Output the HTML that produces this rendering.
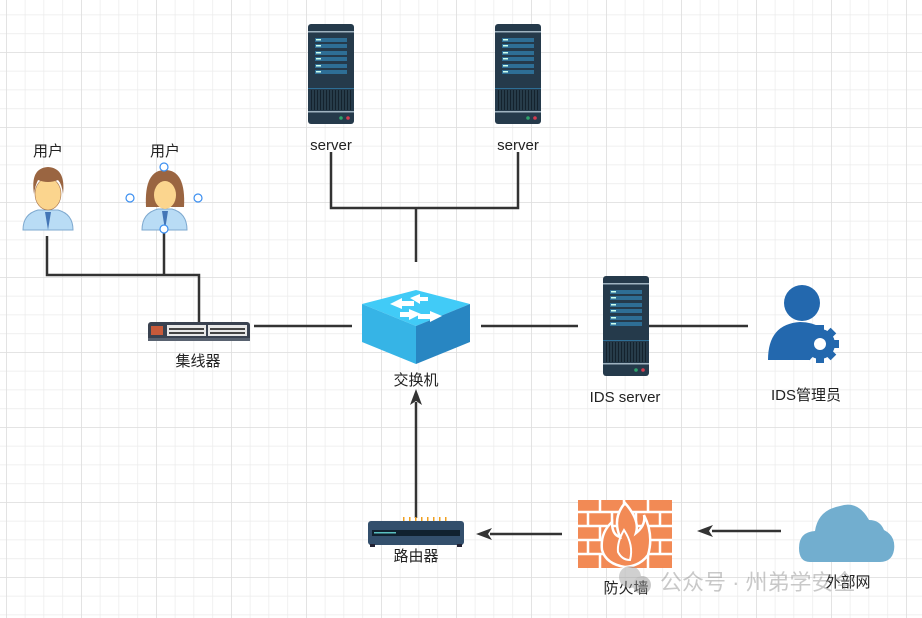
<!DOCTYPE html>
<html><head><meta charset="utf-8"><style>
html,body{margin:0;padding:0;background:#fff;}
svg{display:block;font-family:"Liberation Sans","Noto Sans CJK SC",sans-serif;}
</style></head><body>
<svg width="922" height="618" viewBox="0 0 922 618" xmlns="http://www.w3.org/2000/svg">
<defs>
<pattern id="minor" x="6" y="14.5" width="18.75" height="18.75" patternUnits="userSpaceOnUse">
<path d="M0 0V18.75M0 0H18.75" stroke="#ebebeb" stroke-width="1.4" fill="none"/>
</pattern>
<pattern id="major" x="6" y="52" width="75" height="75" patternUnits="userSpaceOnUse">
<path d="M0 0V75M0 0H75" stroke="#dedede" stroke-width="1.6" fill="none"/>
</pattern>
<g id="srv">
<rect x="0" y="0" width="46" height="100" rx="3" fill="#253a4b"/>
<rect x="0" y="7" width="46" height="1.5" fill="#9fb3c0"/>
<rect x="7" y="14" width="32" height="4" fill="#2e6e95"/>
<rect x="7" y="20" width="32" height="4" fill="#2e6e95"/>
<rect x="7" y="27" width="32" height="4" fill="#2e6e95"/>
<rect x="7" y="33" width="32" height="4" fill="#2e6e95"/>
<rect x="7" y="40" width="32" height="4" fill="#2e6e95"/>
<rect x="7" y="46" width="32" height="4" fill="#2e6e95"/>
<rect x="8" y="15" width="5" height="1.5" fill="#cfe"/><rect x="8" y="21" width="5" height="1.5" fill="#cfe"/>
<rect x="8" y="28" width="5" height="1.5" fill="#cfe"/><rect x="8" y="34" width="5" height="1.5" fill="#cfe"/>
<rect x="8" y="41" width="5" height="1.5" fill="#cfe"/><rect x="8" y="47" width="5" height="1.5" fill="#cfe"/>
<rect x="0" y="64" width="46" height="1" fill="#2e6e95"/>
<rect x="3" y="66" width="40" height="20" fill="#14222d"/>
<path d="M5 66V86M8 66V86M11 66V86M14 66V86M17 66V86M20 66V86M23 66V86M26 66V86M29 66V86M32 66V86M35 66V86M38 66V86M41 66V86" stroke="#3a5566" stroke-width="1"/>
<rect x="0" y="87" width="46" height="1.5" fill="#9fb3c0"/>
<circle cx="33" cy="94" r="1.8" fill="#2ea36b"/><circle cx="40" cy="94" r="1.8" fill="#d43b4f"/>
</g>
</defs>
<rect width="922" height="618" fill="url(#minor)"/>
<rect width="922" height="618" fill="url(#major)"/>

<g stroke="#333" stroke-width="2.5" fill="none">
<path d="M331 152V208H518V152"/>
<path d="M416 208V262"/>
<path d="M47 236V275H199V323"/>
<path d="M164 230V275"/>
<path d="M254 326H352"/>
<path d="M481 326H578"/>
<path d="M648 326H748"/>
<path d="M416 518V402"/>
<path d="M562 534H490"/>
<path d="M781 531H712"/>
</g>
<g fill="#333">
<path d="M416 389L410 405L416 401L422 405Z"/>
<path d="M476 534L492 528L488 534L492 540Z"/>
<path d="M697 531L713 525L709 531L713 537Z"/>
</g>

<use href="#srv" x="308" y="24"/>
<use href="#srv" x="495" y="24"/>
<use href="#srv" x="603" y="276"/>

<g>
<path d="M23 230Q23 214 38 210H58Q73 214 73 230Z" fill="#b9dcf5" stroke="#7ea9cf"/>
<path d="M45 212L48 230L51 212Z" fill="#4476b6"/>
<ellipse cx="48" cy="194" rx="13" ry="16" fill="#fbd58e" stroke="#a57048" stroke-width="0.6"/>
<path d="M34 194Q30 168 48 167Q66 168 63 194Q62 184 58 180Q48 184 38 180Q35 186 34 194Z" fill="#9a6541"/>
</g>
<g>
<path d="M142 230Q142 213 158 209H172Q187 213 187 230Z" fill="#b9dcf5" stroke="#7ea9cf"/>
<path d="M162 211L165 230L168 211Z" fill="#4476b6"/>
<path d="M146 207Q144 170 165 170Q186 170 184 207Z" fill="#9a6541"/>
<ellipse cx="165" cy="195" rx="11" ry="14" fill="#fbd58e"/>
<path d="M153 190Q158 178 170 181Q176 184 178 194Q178 174 165 174Q152 175 153 190Z" fill="#9a6541"/>
</g>
<g fill="#fff" stroke="#3b8ff0" stroke-width="1.2">
<circle cx="164" cy="167" r="4"/><circle cx="130" cy="198" r="4"/><circle cx="198" cy="198" r="4"/><circle cx="164" cy="229" r="4"/>
</g>

<rect x="148" y="322" width="102" height="19" rx="3" fill="#3a4250"/>
<rect x="148" y="338" width="102" height="3" fill="#596270"/>
<rect x="167" y="325" width="39" height="11" fill="#e8e8e8"/>
<rect x="208" y="325" width="39" height="11" fill="#e8e8e8"/>
<rect x="151" y="326" width="12" height="9" fill="#c85a3a"/>
<g fill="#444"><path d="M169 328h35v2h-35zM169 332h35v2h-35zM210 328h35v2h-35zM210 332h35v2h-35z"/></g>

<path d="M362 304L416 290L470 304L416 326Z" fill="#41cbf7"/>
<path d="M362 304L416 326V364L362 342Z" fill="#36b4e6"/>
<path d="M416 326L470 304V342L416 364Z" fill="#2886c2"/>
<g fill="#fff">
<path d="M390 304L402 298V301H414V306H402V309Z"/>
<path d="M410 298L420 294V297H428V301H420V304Z"/>
<path d="M442 316L430 322V319H418V314H430V311Z"/>
<path d="M421 314L409 320V317H400V312H409V309Z"/>
</g>

<circle cx="802" cy="303" r="18" fill="#2368ae"/>
<path d="M768 360Q768 324 800 322Q812 322 822 328L810 360Z" fill="#2368ae"/>
<circle cx="820" cy="344" r="15" fill="#2368ae"/>
<g fill="#2368ae"><rect x="816" y="325" width="8" height="38"/><rect x="801" y="340" width="38" height="8"/>
<rect x="816" y="325" width="8" height="38" transform="rotate(45 820 344)"/><rect x="816" y="325" width="8" height="38" transform="rotate(-45 820 344)"/></g>
<circle cx="820" cy="344" r="6" fill="#fff"/>

<rect x="368" y="521" width="96" height="24" rx="3" fill="#334f6c"/>
<rect x="372" y="530" width="88" height="6" fill="#10212f"/>
<rect x="374" y="532" width="22" height="1.5" fill="#5ac0c0"/>
<g fill="#f0a020"><path d="M403 517h1.5v4h-1.5zM409 517h1.5v4h-1.5zM415 517h1.5v4h-1.5zM421 517h1.5v4h-1.5zM427 517h1.5v4h-1.5zM433 517h1.5v4h-1.5zM439 517h1.5v4h-1.5zM445 517h1.5v4h-1.5z"/></g>
<rect x="370" y="544" width="5" height="3" fill="#223"/><rect x="457" y="544" width="5" height="3" fill="#223"/>

<rect x="578" y="500" width="94" height="68" fill="#f28a55"/>
<g stroke="#fff" stroke-width="2.5">
<path d="M578 512H672M578 526H672M578 540H672M578 554H672"/>
<path d="M600 500V512M624 500V512M648 500V512M588 512V526M612 512V526M636 512V526M660 512V526M600 526V540M624 526V540M648 526V540M588 540V554M612 540V554M636 540V554M660 540V554M600 554V568M624 554V568M648 554V568"/>
</g>
<path d="M625 503Q640 520 636 533Q646 525 644 515Q654 535 648 555Q640 566 625 567Q606 564 602 550Q600 533 612 522Q612 535 620 537Q612 518 625 503Z" fill="#f28a55" stroke="#fff" stroke-width="2.5"/>
<path d="M624 530Q634 545 630 560Q622 560 618 552Q617 542 624 530Z" fill="none" stroke="#fff" stroke-width="2"/>

<path d="M810 562Q799 562 799 548Q799 532 815 531Q818 510 840 506Q858 500 869 520Q880 520 884 530Q896 536 894 550Q892 562 880 562Z" fill="#72aecf"/>

<g font-size="15" fill="#222" text-anchor="middle">
<text x="48" y="156">用户</text>
<text x="165" y="156">用户</text>
<text x="331" y="150">server</text>
<text x="518" y="150">server</text>
<text x="198" y="366">集线器</text>
<text x="416" y="385">交换机</text>
<text x="625" y="402">IDS server</text>
<text x="806" y="400">IDS管理员</text>
<text x="416" y="561">路由器</text>
<text x="626" y="593">防火墙</text>
<text x="848" y="587">外部网</text>
</g>
<g opacity="0.45">
<circle cx="630" cy="577" r="11" fill="#999"/>
<circle cx="642" cy="585" r="9" fill="#888"/>
<text x="660" y="590" font-size="22" fill="#888">公众号 · 州弟学安全</text>
</g>
</svg>
</body></html>
